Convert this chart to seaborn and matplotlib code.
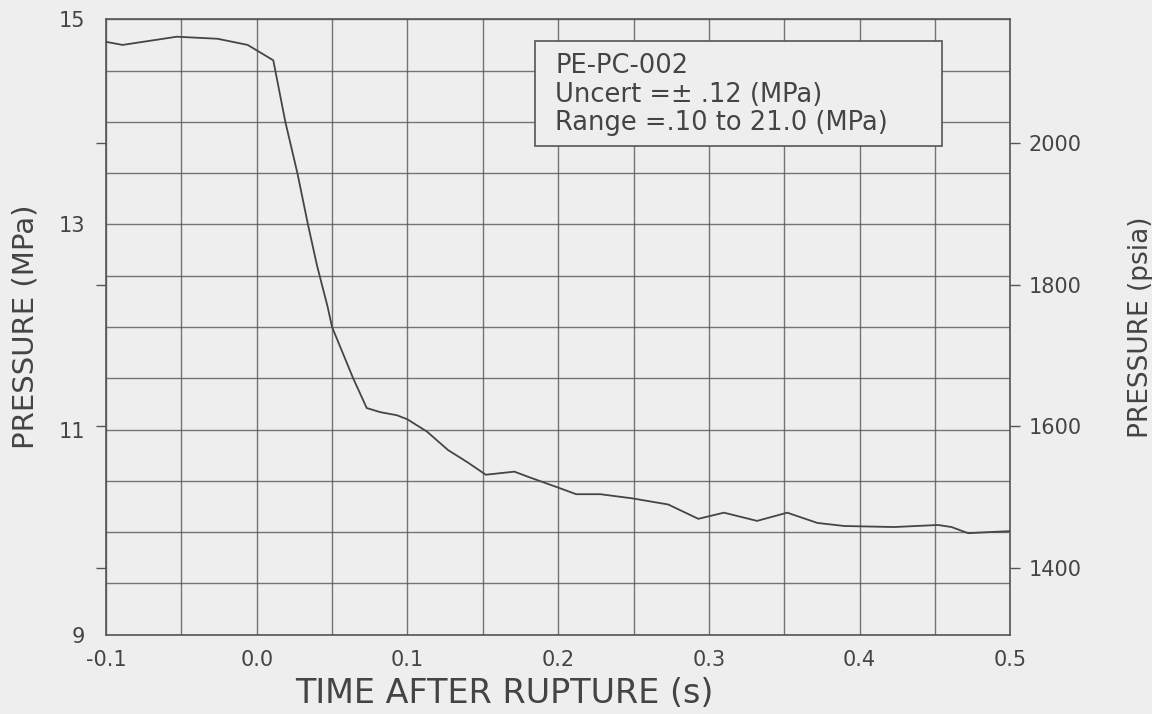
import matplotlib
matplotlib.use("Agg")
import matplotlib.pyplot as plt
from matplotlib import font_manager
from matplotlib.patches import Rectangle
from matplotlib.ticker import MultipleLocator, FixedLocator
import numpy as np
import pandas as pd
import seaborn as sns


# ==============================
# DATA
# ==============================
time_s = [-0.100, -0.089, -0.053, -0.026, -0.006, 0.011, 0.019, 0.027, 0.034,
          0.040, 0.047, 0.050, 0.064, 0.073, 0.082, 0.093, 0.100, 0.113, 0.127,
          0.140, 0.152, 0.171, 0.180, 0.199, 0.212, 0.228, 0.249, 0.273, 0.293,
          0.310, 0.332, 0.352, 0.372, 0.390, 0.423, 0.452, 0.461, 0.472, 0.485,
          0.500]
pressure_mpa = [14.78, 14.75, 14.83, 14.81, 14.75, 14.60, 14.00, 13.50, 13.00,
                12.60, 12.20, 12.00, 11.50, 11.21, 11.17, 11.14, 11.10, 10.98,
                10.80, 10.68, 10.56, 10.59, 10.54, 10.44, 10.37, 10.37, 10.33,
                10.27, 10.13, 10.19, 10.11, 10.19, 10.09, 10.06, 10.05, 10.07,
                10.05, 9.99, 10.00, 10.01]

x_ticks = [-0.1, 0.0, 0.1, 0.2, 0.3, 0.4, 0.5]
mpa_ticks = [9, 11, 13, 15]
psia_ticks = [1400, 1600, 1800, 2000]
legend_lines = ["PE-PC-002", "Uncert =\u00b1 .12 (MPa)", "Range =.10 to 21.0 (MPa)"]

MPA_TO_PSI = 145.038

df = pd.DataFrame({"time": time_s, "pressure": pressure_mpa})

# ==============================
# STYLE
# ==============================
sns.set_theme(style="white")
bg = "#eeeeee"
ink = "#444444"
grid_c = "#555555"

avail = {f.name for f in font_manager.fontManager.ttflist}
narrow = "Liberation Sans Narrow" if "Liberation Sans Narrow" in avail else "DejaVu Sans"
plt.rcParams["font.family"] = ["DejaVu Sans"]

fig = plt.figure(figsize=(11.52, 7.14), dpi=100, facecolor=bg)
ax = fig.add_axes([0.092, 0.111, 0.785, 0.862])
ax.set_facecolor(bg)

sns.lineplot(data=df, x="time", y="pressure", ax=ax, color="#454545",
             linewidth=1.3, zorder=3)

ax.set_xlim(-0.1, 0.5)
ax.set_ylim(9, 15)

ax.xaxis.set_major_locator(FixedLocator(x_ticks))
ax.xaxis.set_minor_locator(MultipleLocator(0.05))
ax.yaxis.set_major_locator(FixedLocator(mpa_ticks))
ax.yaxis.set_minor_locator(MultipleLocator(0.5))
ax.set_xticklabels(["%.1f" % t for t in x_ticks])

ax.grid(True, which="both", color=grid_c, linewidth=1.0, alpha=0.8)
ax.tick_params(axis="both", which="both", length=0, colors=ink)
ax.tick_params(axis="x", labelsize=15, pad=11)
ax.tick_params(axis="y", labelsize=15, pad=15)
for lbl in ax.get_xticklabels():
    lbl.set_family(narrow)
for s in ax.spines.values():
    s.set_color(grid_c)
    s.set_linewidth(1.2)

ax.set_xlabel("TIME AFTER RUPTURE (s)", fontsize=24, color=ink, family=narrow)
ax.xaxis.set_label_coords(0.44, -0.068)
ax.set_ylabel("PRESSURE (MPa)", fontsize=21, color=ink)
ax.yaxis.set_label_coords(-0.074, 0.50)

# right axis in psia
ax2 = ax.twinx()
ax2.set_ylim(9 * MPA_TO_PSI, 15 * MPA_TO_PSI)
ax2.yaxis.set_major_locator(FixedLocator(psia_ticks))
ax2.tick_params(axis="y", which="major", left=True, right=True, labelleft=False,
                labelright=True, direction="out", length=7, width=1.0,
                color=grid_c, labelcolor=ink, labelsize=15, pad=6)
ax2.grid(False)
for s in ax2.spines.values():
    s.set_visible(False)
ax2.set_ylabel("PRESSURE (psia)", fontsize=19, color=ink, rotation=90)
ax2.yaxis.set_label_coords(1.13, 0.50)

# info box
ax.add_patch(Rectangle((0.474, 0.794), 0.45, 0.171, transform=ax.transAxes,
                       facecolor=bg, edgecolor=grid_c, linewidth=1.2, zorder=4))
ax.text(0.497, 0.945, "\n".join(legend_lines), transform=ax.transAxes,
        ha="left", va="top", fontsize=18.5, color=ink, linespacing=1.12, zorder=5)

plt.savefig("out.png", dpi=100, facecolor=bg)
plt.close()
